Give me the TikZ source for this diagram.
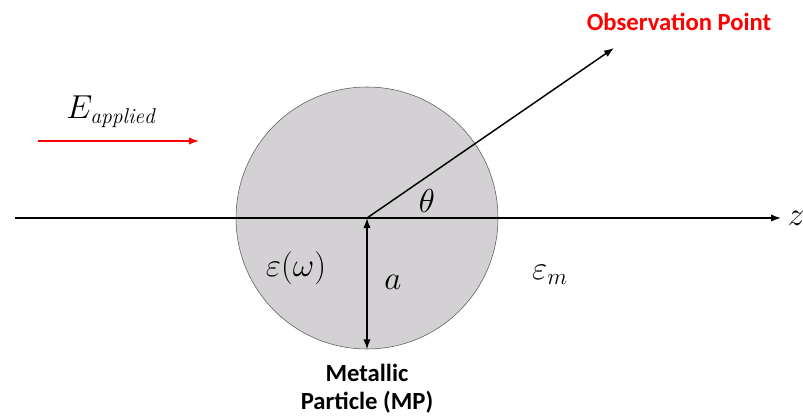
\documentclass[tikz,border=0pt]{standalone}
\usepackage{fontspec}
\usepackage{amsmath}
\usepackage{tikz}
\usetikzlibrary{arrows.meta,positioning,calc}
\newfontfamily\lblfont{Carlito}
\definecolor{mpgray}{RGB}{211,209,211}
\definecolor{obsred}{RGB}{255,0,0}
\tikzset{
  particle/.style={circle, draw=black!65, fill=mpgray, inner sep=0pt, minimum size=196.5pt},
  axisarr/.style={-{Latex[length=7.5pt,width=5.5pt]}, line width=1.1pt},
  fieldarr/.style={-{Latex[length=7.5pt,width=5.5pt]}, obsred, line width=1.1pt},
  symb/.style={font=\fontsize{23}{26}\selectfont, inner sep=1pt},
  lbl/.style={font=\lblfont\bfseries\fontsize{18.5}{21}\selectfont, align=center, inner sep=1pt},
}
\begin{document}
\begin{tikzpicture}[x=0.75pt, y=-0.75pt]
  \useasboundingbox (0,0) rectangle (803,417);
  \node[particle] (mp) at (367,218) {};
  \coordinate (o) at (367,218);
  \coordinate (zs) at (15,218);
  \coordinate (ze) at (781,218);
  \coordinate (obs) at (614,48);
  \coordinate (es) at (38,141);
  \coordinate (ee) at (199,141);
  \draw[axisarr] (zs) -- (ze);
  \node[symb, right=4pt of ze] (z) {$z$};
  \draw[axisarr] (o) -- (obs);
  \node[lbl, text=obsred] (obslbl) at (679,22) {Observation Point};
  \draw[fieldarr] (es) -- (ee);
  \node[symb] (elbl) at (111,112) {$E_{\mathit{\fontsize{13}{15}\selectfont applied}}$};
  \draw[{Latex[length=7.5pt,width=5.5pt]}-{Latex[length=7.5pt,width=5.5pt]}, line width=1.1pt] (o) -- (mp.south);
  \node[symb] (theta) at (427,201) {$\theta$};
  \node[symb] (epsw) at (296,268) {$\varepsilon(\omega)$};
  \node[symb] (rad) at (393,282) {$a$};
  \node[symb] (epsm) at (550,275) {$\varepsilon_m$};
  \node[lbl] (mplbl) at (367,389) {Metallic\\Particle (MP)};
\end{tikzpicture}
\end{document}
